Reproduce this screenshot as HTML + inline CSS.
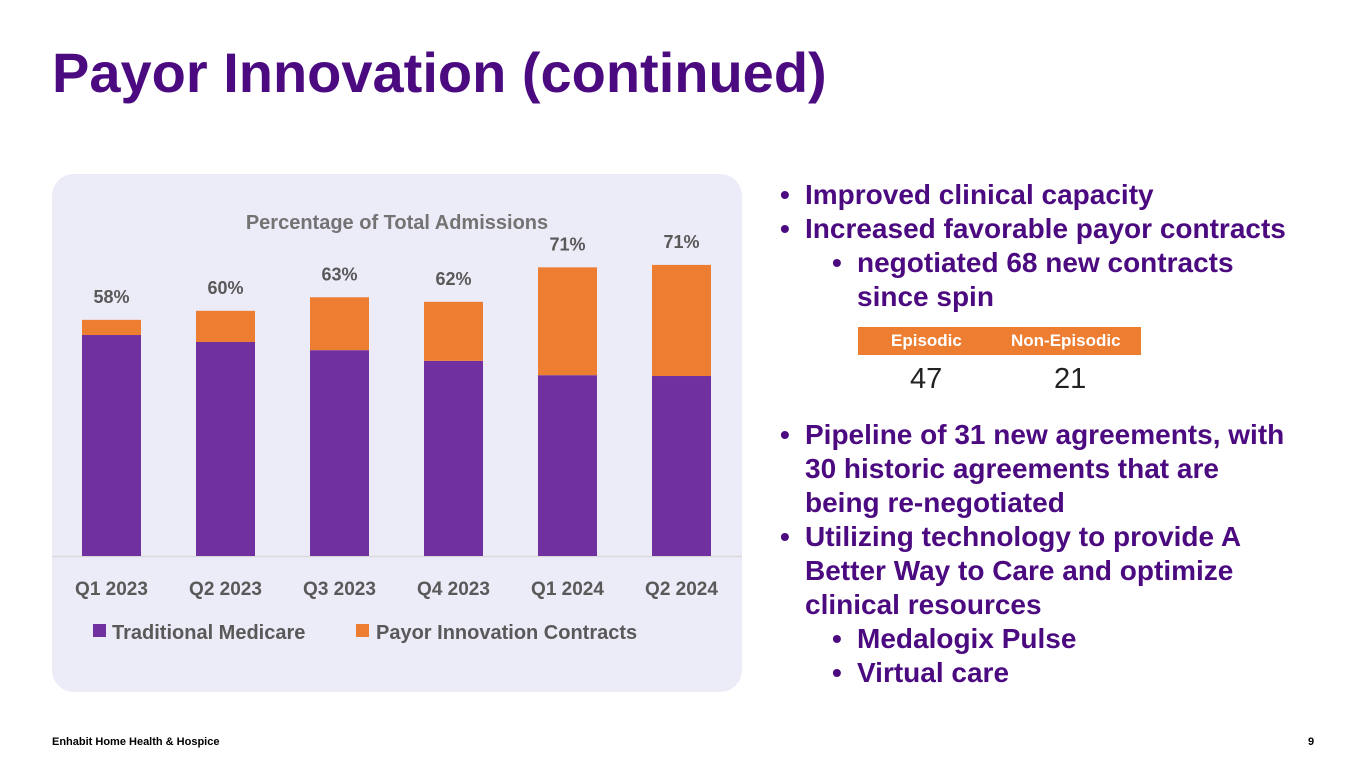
<!DOCTYPE html>
<html><head><meta charset="utf-8"><style>
body{margin:0;width:1365px;height:768px;background:#fff;font-family:"Liberation Sans",sans-serif;position:relative;overflow:hidden}
.abs{position:absolute}
.title{left:52px;top:40px;font-size:56px;font-weight:bold;color:#4b0a80;white-space:nowrap}
.b{color:#4b0a80;font-weight:bold;font-size:28px;line-height:34px;white-space:nowrap}
.b .d{position:absolute;left:-25px}
.foot{font-size:11px;font-weight:bold;color:#000;top:736px}
</style></head><body>
<div class="abs title">Payor Innovation (continued)</div>
<svg class="abs" style="left:0;top:0" width="760" height="720">
<rect x="52" y="174" width="690" height="518" rx="22" fill="#ecebf8"/>
<text x="397" y="229" text-anchor="middle" font-size="20" font-weight="bold" fill="#737373">Percentage of Total Admissions</text>
<line x1="52" y1="556.5" x2="742" y2="556.5" stroke="#d9d9d9" stroke-width="1.5"/>
<g id="bars"></g>
<rect x="93" y="624" width="13" height="13" fill="#7030a0"/>
<text x="112" y="639" font-size="20" font-weight="bold" fill="#595959">Traditional Medicare</text>
<rect x="356" y="624" width="13" height="13" fill="#ed7d31"/>
<text x="376" y="639" font-size="20" font-weight="bold" fill="#595959">Payor Innovation Contracts</text>
</svg>
<script>
const categories=["Q1 2023","Q2 2023","Q3 2023","Q4 2023","Q1 2024","Q2 2024"];
const traditional=[53.9,52.2,50.2,47.6,44.1,43.9];
const payor=[3.7,7.6,12.9,14.4,26.3,27.1];
const totalLabels=["58%","60%","63%","62%","71%","71%"];
const ns="http://www.w3.org/2000/svg";
const g=document.getElementById("bars");
const y=v=>556-v*4.1;
const xc=i=>111.5+i*114;
function mk(t,a){const e=document.createElementNS(ns,t);for(const k in a)e.setAttribute(k,a[k]);g.appendChild(e);return e;}
categories.forEach((c,i)=>{
 const r1=mk("rect",{x:xc(i)-29.5,y:y(traditional[i]),width:59,height:556-y(traditional[i]),fill:"#7030a0"});
 
 
 const tot=traditional[i]+payor[i];
 const r2=mk("rect",{x:xc(i)-29.5,y:y(tot),width:59,height:payor[i]*4.1,fill:"#ed7d31"});
 
 
 const l=mk("text",{x:xc(i),y:y(tot)-17,"text-anchor":"middle","font-size":"18","font-weight":"bold",fill:"#595959"});
 l.textContent=totalLabels[i];
 
 
 const t=mk("text",{x:xc(i),y:595,"text-anchor":"middle","font-size":"19","font-weight":"bold",fill:"#595959"});
 t.textContent=c;
 
 
});
</script>
<div class="abs b" style="left:805px;top:178px"><span class="d">•</span>Improved clinical capacity</div>
<div class="abs b" style="left:805px;top:212px"><span class="d">•</span>Increased favorable payor contracts</div>
<div class="abs b" style="left:857px;top:246px"><span class="d">•</span>negotiated 68 new contracts<br>since spin</div>
<div class="abs" style="left:858px;top:327px;width:283px;height:28px;background:#ed7d31">
<span class="abs" style="left:33px;top:4px;color:#fff;font-weight:bold;font-size:17px">Episodic</span>
<span class="abs" style="left:153px;top:4px;color:#fff;font-weight:bold;font-size:17px">Non-Episodic</span></div>
<div class="abs" style="left:910px;top:363px;font-size:29px;color:#222">47</div>
<div class="abs" style="left:1054px;top:363px;font-size:29px;color:#222">21</div>
<div class="abs b" style="left:805px;top:418px"><span class="d">•</span>Pipeline of 31 new agreements, with<br>30 historic agreements that are<br>being re-negotiated</div>
<div class="abs b" style="left:805px;top:520px"><span class="d">•</span>Utilizing technology to provide A<br>Better Way to Care and optimize<br>clinical resources</div>
<div class="abs b" style="left:857px;top:622px"><span class="d">•</span>Medalogix Pulse<br><span class="d" style="top:34px">•</span>Virtual care</div>
<div class="abs foot" style="left:52px">Enhabit Home Health &amp; Hospice</div>
<div class="abs foot" style="left:1308px">9</div>
</body></html>
